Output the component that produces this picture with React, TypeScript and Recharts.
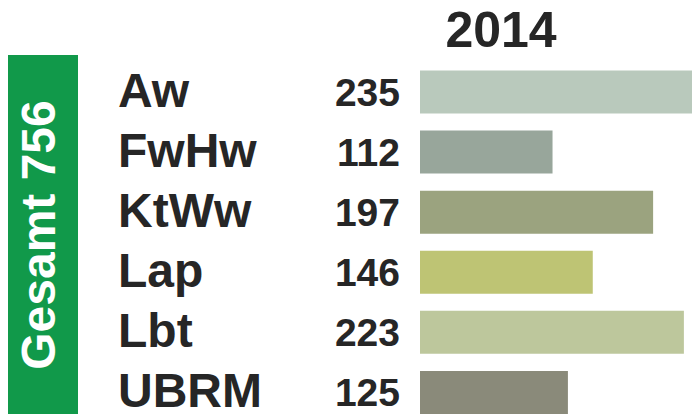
import { BarChart, Bar, XAxis, YAxis, Cell, LabelList } from 'recharts';

const categories = ['Aw', 'FwHw', 'KtWw', 'Lap', 'Lbt', 'UBRM'];
const counts = [235, 112, 197, 146, 223, 125];
const barColors = ['#b9c9bc', '#98a69b', '#9ba37f', '#bec474', '#bdc79c', '#8a8a7a'];
const yearLabel = '2014';
const totalLabel = 'Gesamt 756';

const data = categories.map((name, i) => ({ name, value: counts[i] }));

const FONT = '"Liberation Sans", Arial, sans-serif';
const TEXT = '#262626';

function CategoryTick(props: any) {
  const { y, payload } = props;
  return (
    <text x={118} y={y + 15} fill={TEXT} fontFamily={FONT} fontWeight="bold" fontSize={48}>
      {payload.value}
    </text>
  );
}

export default function App() {
  return (
    <div
      style={{
        position: 'absolute',
        left: 0,
        top: 0,
        width: 692,
        height: 414,
        overflow: 'hidden',
        background: '#fff',
      }}
    >
      <BarChart
        layout="vertical"
        width={704}
        height={422}
        data={data}
        margin={{ top: 61.5, right: 0, bottom: 0, left: 0 }}
        barSize={43}
      >
        <XAxis type="number" hide domain={[0, 240]} />
        <YAxis
          type="category"
          dataKey="name"
          width={420}
          axisLine={false}
          tickLine={false}
          tick={<CategoryTick />}
          interval={0}
        />
        <Bar dataKey="value" isAnimationActive={false}>
          {data.map((d, i) => (
            <Cell key={d.name} fill={barColors[i]} />
          ))}
          <LabelList
            dataKey="value"
            position="left"
            offset={20}
            fill={TEXT}
            fontFamily={FONT}
            fontWeight="bold"
            fontSize={39}
          />
        </Bar>
      </BarChart>

      {/* year heading */}
      <div
        style={{
          position: 'absolute',
          left: 401,
          top: 4.7,
          width: 200,
          textAlign: 'center',
          fontFamily: FONT,
          fontWeight: 'bold',
          fontSize: 50,
          lineHeight: 1,
          color: TEXT,
        }}
      >
        {yearLabel}
      </div>

      {/* green total box */}
      <div
        style={{
          position: 'absolute',
          left: 8,
          top: 55,
          width: 70,
          height: 370,
          background: '#11994a',
        }}
      />
      <div
        style={{
          position: 'absolute',
          left: 39,
          top: 235,
          transform: 'translate(-50%, -50%) rotate(-90deg)',
          whiteSpace: 'nowrap',
          fontFamily: FONT,
          fontWeight: 'bold',
          fontSize: 48,
          lineHeight: 1,
          color: '#fff',
        }}
      >
        {totalLabel}
      </div>
    </div>
  );
}
